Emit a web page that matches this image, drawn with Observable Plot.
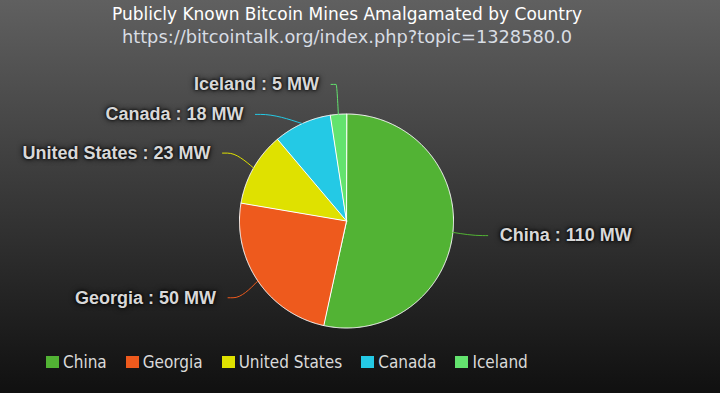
<!DOCTYPE html>
<html>
<head>
<meta charset="utf-8">
<script src="https://cdn.jsdelivr.net/npm/d3@7"></script>
<script src="https://cdn.jsdelivr.net/npm/@observablehq/plot@0.6"></script>
<style>
  html, body { margin: 0; padding: 0; }
  #wrap {
    position: relative; width: 720px; height: 393px; overflow: hidden;
    background: linear-gradient(to bottom, rgb(96,96,96), rgb(16,16,16));
    font-family: "DejaVu Sans", Verdana, sans-serif;
  }
  #title, #subtitle {
    position: absolute; left: 0; width: 694px; text-align: center; white-space: nowrap;
  }
  #title { top: 4px; color: #ffffff; font-size: 17px; }
  #subtitle { top: 26px; color: #d8dde4; font-size: 17.8px; }
  #chart { position: absolute; left: 0; top: 50px; }
  #legend {
    position: absolute; left: 46px; top: 352px; display: flex; align-items: center;
    font-family: "DejaVu Sans Condensed", "DejaVu Sans", sans-serif;
    font-size: 17px; color: #dadada; white-space: nowrap;
  }
  #legend .item { display: flex; align-items: center; margin-right: 19px; }
  #legend .sw { width: 13px; height: 12px; margin-right: 4px; }
  .pie text { text-shadow: 0 0 6px #000, 0 0 3px #000; }
</style>
</head>
<body>
<div id="wrap">
  <div id="title"></div>
  <div id="subtitle"></div>
  <div id="chart"></div>
  <div id="legend"></div>
</div>
<script>
// ---- data ----
const titleText = "Publicly Known Bitcoin Mines Amalgamated by Country";
const subtitleText = "https://bitcointalk.org/index.php?topic=1328580.0";
const names = ["China", "Georgia", "United States", "Canada", "Iceland"];
const values = [110, 50, 23, 18, 5];
const colors = ["#52b334", "#ee5a1d", "#dfe100", "#24c9e5", "#63e36e"];
const unit = "MW";

// ---- layout ----
const W = 720, H = 290;
const CX = 346, CY = 170.5;   // pie centre inside the svg
const R = 107, DIST = 30, PAD = 5, TXT = 17, LINE_GAP = 30;

document.getElementById("title").textContent = titleText;
document.getElementById("subtitle").textContent = subtitleText;

const data = names.map((n, i) => ({name: n, value: values[i]}));
const arcs = d3.pie().sort(null).value(d => d.value)(data);

const pt = (a, rr) => ({x: rr * Math.sin(a), y: -rr * Math.cos(a)});

// slice polygons
const slicePts = [];
for (const a of arcs) {
  const n = Math.max(2, Math.ceil((a.endAngle - a.startAngle) / (Math.PI / 360)));
  slicePts.push({name: a.data.name, x: 0, y: 0});
  for (let k = 0; k <= n; k++) {
    const t = a.startAngle + (a.endAngle - a.startAngle) * k / n;
    slicePts.push({name: a.data.name, ...pt(t, R)});
  }
}

// labels with simple overlap avoidance
const RL = R + DIST;
const labels = arcs.map(a => {
  const mid = (a.startAngle + a.endAngle) / 2;
  const p = pt(mid, RL);
  return {name: a.data.name, value: a.data.value, mid, side: Math.sin(mid) >= 0 ? 1 : -1,
          ax: p.x, ay: p.y, edge: pt(mid, R)};
});
for (const s of [1, -1]) {
  const grp = labels.filter(l => l.side === s).sort((a, b) => a.ay - b.ay);
  for (let i = 1; i < grp.length; i++) {
    if (grp[i].ay < grp[i - 1].ay + LINE_GAP) {
      grp[i].ay = grp[i - 1].ay + LINE_GAP;
      grp[i].ax = s * Math.sqrt(Math.max(0, RL * RL - grp[i].ay * grp[i].ay));
    }
  }
}
const connPts = [];
for (const l of labels) {
  const end = {x: l.ax + l.side * PAD, y: l.ay};
  const mid = {x: l.ax, y: l.ay};
  const seq = l.side < 0 ? [end, mid, l.edge] : [l.edge, mid, end];
  for (const p of seq) connPts.push({name: l.name, x: p.x, y: p.y});
}
const labelText = l => `${l.name} : ${l.value} ${unit}`;

const chart = Plot.plot({
  width: W, height: H,
  marginTop: 0, marginRight: 0, marginBottom: 0, marginLeft: 0,
  className: "pie",
  style: {background: "transparent", overflow: "visible"},
  x: {domain: [-CX, W - CX], range: [0, W], axis: null},
  y: {domain: [-CY, H - CY], range: [0, H], axis: null},
  color: {domain: names, range: colors},
  marks: [
    Plot.line(slicePts, {x: "x", y: "y", z: "name", fill: "name", stroke: "white",
      strokeWidth: 1, curve: "linear-closed", strokeLinejoin: "round"}),
    Plot.line(connPts, {x: "x", y: "y", z: "name", stroke: "name", strokeWidth: 1,
      curve: "monotone-x"}),
    Plot.text(labels.filter(l => l.side < 0), {x: l => l.ax - TXT, y: "ay", text: labelText,
      textAnchor: "end", fill: "#d8d8d8", fontSize: 18, fontWeight: "bold",
      fontFamily: "Liberation Sans, Arial, sans-serif"}),
    Plot.text(labels.filter(l => l.side > 0), {x: l => l.ax + TXT, y: "ay", text: labelText,
      textAnchor: "start", fill: "#d8d8d8", fontSize: 18, fontWeight: "bold",
      fontFamily: "Liberation Sans, Arial, sans-serif"})
  ]
});
document.getElementById("chart").appendChild(chart);

// legend
const leg = document.getElementById("legend");
names.forEach((n, i) => {
  const it = document.createElement("div"); it.className = "item";
  const sw = document.createElement("div"); sw.className = "sw"; sw.style.background = colors[i];
  const tx = document.createElement("span"); tx.textContent = n;
  it.appendChild(sw); it.appendChild(tx); leg.appendChild(it);
});
</script>
</body>
</html>
